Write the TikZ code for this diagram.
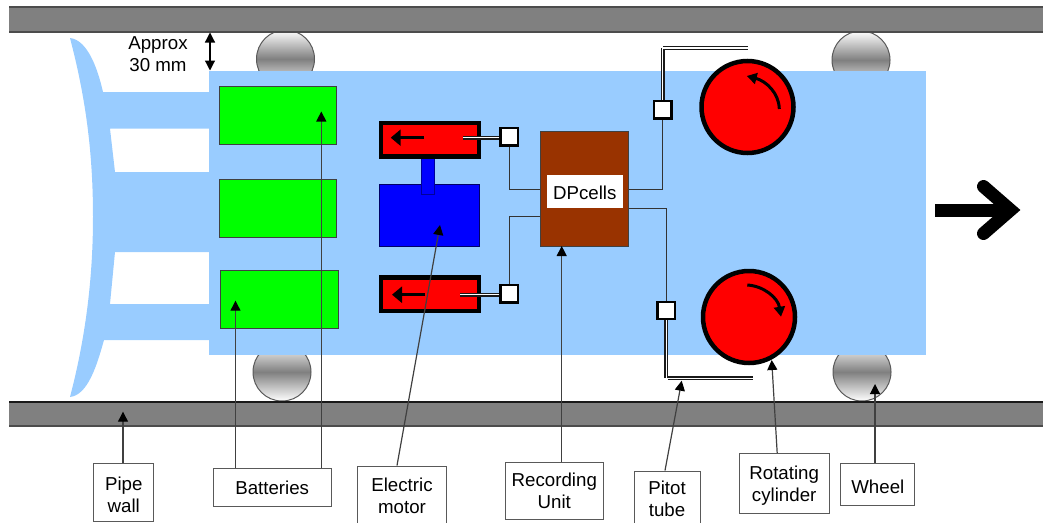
\documentclass[tikz,border=0pt]{standalone}
\usepackage{fontspec}
\setmainfont{Liberation Sans}
\usetikzlibrary{arrows.meta}
\definecolor{hull}{HTML}{99CCFF}
\definecolor{recorder}{HTML}{993300}
\newcommand{\lowtext}{\rule{0pt}{18pt}}

\begin{document}
\begin{tikzpicture}[x=1pt,y=-1pt,line width=1pt,>={Triangle[length=10pt,width=10pt,color=black]},
    font=\fontsize{18.7}{22}\selectfont,
    wheel/.style={top color=white,bottom color=white,middle color=black!50,draw=black!65},
    battery/.style={draw=black!75,fill=green,inner sep=0pt,minimum width=117.5,minimum height=58},
    piston/.style={draw=black,line width=4.5pt,fill=red,inner sep=0pt,minimum width=98,minimum height=33.5},
    port/.style={draw=black,line width=2.2pt,fill=white,inner sep=0pt,minimum size=17.5},
    wire/.style={draw=black!80,line width=1pt},
    pitot/.style={draw=black!90,double=white,line width=1.5pt,double distance=1.3pt},
    drum/.style={draw=black,line width=4.5pt,fill=red},
    bent/.style={->,line width=3pt,>={Triangle[length=10pt,width=11pt]}},
    push/.style={->,line width=3.3pt,>={Triangle[length=10pt,width=16pt]}},
    tag/.style={draw=black!65,fill=white,line width=1pt,inner sep=0pt,align=center},
    callout/.style={->,draw=black!75,line width=1.2pt}]
  \useasboundingbox (0,0) rectangle (1043,522);

  % wheels and pipe
  \draw[wheel] (285.5,59) circle (29);
  \draw[wheel] (861,60) circle (29);
  \draw[wheel] (282,372) circle (29);
  \draw[wheel] (862,372) circle (29);
  \fill[black!50] (9,7) rectangle (1043,32);
  \fill[black!50] (9,402) rectangle (1043,426);
  \draw[black!70,line width=1.2pt] (9,7) -- (1043,7) (9,32) -- (1043,32);
  \draw[black!90,line width=1.2pt] (9,402) -- (1043,402);
  \draw[black!70,line width=1.2pt] (9,426) -- (1043,426);

  % body with its nose
  \fill[hull] (70,38) .. controls (88,40) and (98,70) .. (103,92) -- (209,92) -- (209,128.7)
    -- (110,128.7) -- (115,172) -- (209,172) -- (209,252) -- (115,252) -- (110,304)
    -- (209,304) -- (209,340) -- (104,340) .. controls (97,365) and (88,395) .. (70,397)
    .. controls (85,340) and (93,280) .. (93,217) .. controls (93,150) and (85,95) .. (70,38);
  \fill[hull] (209,70.6) rectangle (926,354.6);

  % batteries
  \node[battery] (battA) at (278.2,115) {};
  \node[battery] (battB) at (278.2,208) {};
  \node[battery] (battC) at (279.5,299.3) {};

  % motor
  \node[draw=black!60!blue,fill=blue,inner sep=0pt,minimum width=100.5,minimum height=61.7] (motor) at (429.3,215.8) {};
  \draw[draw=blue!60!black,fill=blue] (421.7,156) rectangle (434,194);
  \node[piston] (pistonA) at (430,139.8) {};
  \node[piston] (pistonB) at (430,294.4) {};
  \draw[push] (424,137.7) -- (390.7,137.7);
  \draw[push] (425,294.7) -- (392,294.7);

  % recording unit
  \node[draw=black!75,fill=recorder,inner sep=0pt,minimum width=88,minimum height=115] (dp) at (584,189.2) {};
  \node[fill=white,inner sep=0pt,minimum width=76.3,minimum height=33] (dplabel) at (584.8,191) {\lowtext DPcells};

  % pressure ports
  \node[port] (portA) at (509.2,136.8) {};
  \node[port] (portB) at (509.2,293.7) {};
  \node[port] (portC) at (662.8,109.8) {};
  \node[port] (portD) at (666.3,310.5) {};
  \draw[wire] (portA.south) |- (dp.west);
  \draw[wire] (portB.north) |- ([yshift=-27pt]dp.west);
  \draw[wire] (dp.east) -| (portC.south);
  \draw[wire] ([yshift=-19pt]dp.east) -| (portD.north);
  \coordinate (stubA) at (463,137.8);
  \coordinate (stubB) at (460,294.7);
  \draw[pitot] (portA.west |- stubA) -- (stubA);
  \draw[pitot] (portB.west |- stubB) -- (stubB);

  % pitot tubes
  \coordinate (tubeA) at (662,48);
  \coordinate (tubeB) at (665.7,378);
  \draw[pitot] (portC.north) -- (portC.north |- tubeA);
  \draw[pitot] (663.4,48) -- (748,48);
  \draw[pitot] (portD.south) -- (portD.south |- tubeB);
  \draw[pitot] (667.9,378.3) -- (753,378.3);

  % rotating cylinders
  \draw[drum] (747.5,107) circle (46);
  \draw[drum] (749,317) circle (46);
  \draw[bent] (779.3,109) .. controls (779,93) and (766,81) .. (746.7,76);
  \draw[bent] (747.3,285) .. controls (764,286) and (778,298) .. (781,316.7);

  % direction of travel
  \draw[line width=13pt] (935.3,210) -- (1010,210);
  \draw[line width=13pt,line cap=round,miter limit=10] (983.5,186.5) -- (1010.5,210) -- (983.5,233.5);

  % gap
  \node (gaptext) at (158,54.5) [align=center,inner sep=0pt] {Approx\\30 mm};
  \coordinate (gapT) at (210,32.5);
  \coordinate (gapB) at (210,70.5);
  \draw[<->,draw=black,line width=1.2pt] (gapT) -- (gapB);

  % labels
  \node[tag,minimum width=59.7,minimum height=57.5] (lblPipe) at (123.8,492.3) {\lowtext Pipe\\wall};
  \node[tag,minimum width=117.7,minimum height=37.6] (lblBatt) at (272.2,487.5) {Batteries};
  \node[tag,minimum width=89.5,minimum height=60] (lblMotor) at (402,496) {Electric\\motor};
  \node[tag,minimum width=98,minimum height=56.5] (lblRec) at (554.3,490.8) {Recording\\Unit};
  \node[tag,minimum width=66,minimum height=55] (lblPitot) at (667,498.5) {Pitot\\tube};
  \node[tag,minimum width=89.7,minimum height=60] (lblRot) at (784.2,483.7) {\lowtext Rotating\\cylinder};
  \node[tag,minimum width=74.3,minimum height=41.7] (lblWheel) at (877.8,484.2) {\lowtext Wheel};

  \coordinate (tipPipe) at (123,411.7);
  \coordinate (tipBattC) at (235.5,300.7);
  \coordinate (tipBattA) at (321.3,111.5);
  \coordinate (tipMotor) at (440,225);
  \coordinate (tipRec) at (561.7,246);
  \coordinate (tipPitot) at (681.7,380.7);
  \coordinate (tipRot) at (771.7,360);
  \coordinate (tipWheel) at (875,384);
  \draw[callout] (lblPipe.north -| tipPipe) -- (tipPipe);
  \draw[callout] (lblBatt.north -| tipBattC) -- (tipBattC);
  \draw[callout] (lblBatt.north -| tipBattA) -- (tipBattA);
  \draw[callout] ([xshift=-5pt]lblMotor.north) -- (tipMotor);
  \draw[callout] (lblRec.north -| tipRec) -- (tipRec);
  \draw[callout] ([xshift=-2pt]lblPitot.north) -- (tipPitot);
  \draw[callout] ([xshift=-7pt]lblRot.north) -- (tipRot);
  \draw[callout] (lblWheel.north -| tipWheel) -- (tipWheel);
\end{tikzpicture}
\end{document}
